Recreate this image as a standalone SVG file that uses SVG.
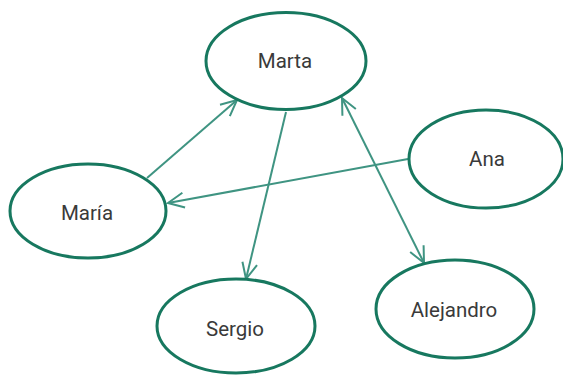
<svg xmlns="http://www.w3.org/2000/svg" width="563" height="377" viewBox="0 0 563 377">
  <style>
    .node ellipse { fill: #ffffff; stroke: #17785f; stroke-width: 3; }
    .node text { font-family: Roboto, "Liberation Sans", Arial, sans-serif; font-size: 20.5px; fill: #3a3a3a; text-anchor: middle; }
    .edge { fill: none; stroke: #3f9482; stroke-width: 2; }
  </style>
  <defs>
    <marker id="open" viewBox="-18 -9 20 18" refX="0" refY="0" markerWidth="20" markerHeight="18" markerUnits="userSpaceOnUse" orient="auto-start-reverse">
      <path d="M-16,-7.5 L0,0 L-16,7.5" fill="none" stroke="#3f9482" stroke-width="2"/>
    </marker>
  </defs>

  <g id="connectors">
    <line class="edge" x1="147" y1="178" x2="237" y2="100" marker-end="url(#open)"/>
    <line class="edge" x1="286" y1="112" x2="246" y2="279" marker-end="url(#open)"/>
    <line class="edge" x1="408" y1="159" x2="168" y2="203" marker-end="url(#open)"/>
    <line class="edge" x1="342" y1="98" x2="424" y2="263" marker-start="url(#open)" marker-end="url(#open)"/>
  </g>

  <g id="marta" class="node">
    <ellipse cx="286" cy="61" rx="80" ry="48.5"/>
    <text x="285" y="68">Marta</text>
  </g>
  <g id="maria" class="node">
    <ellipse cx="88" cy="211" rx="78" ry="47"/>
    <text x="87" y="220">María</text>
  </g>
  <g id="ana" class="node">
    <ellipse cx="486" cy="159" rx="77" ry="49"/>
    <text x="487" y="166">Ana</text>
  </g>
  <g id="sergio" class="node">
    <ellipse cx="236" cy="326" rx="79" ry="47"/>
    <text x="235" y="336">Sergio</text>
  </g>
  <g id="alejandro" class="node">
    <ellipse cx="455" cy="309" rx="79" ry="49"/>
    <text x="454" y="317">Alejandro</text>
  </g>
</svg>
